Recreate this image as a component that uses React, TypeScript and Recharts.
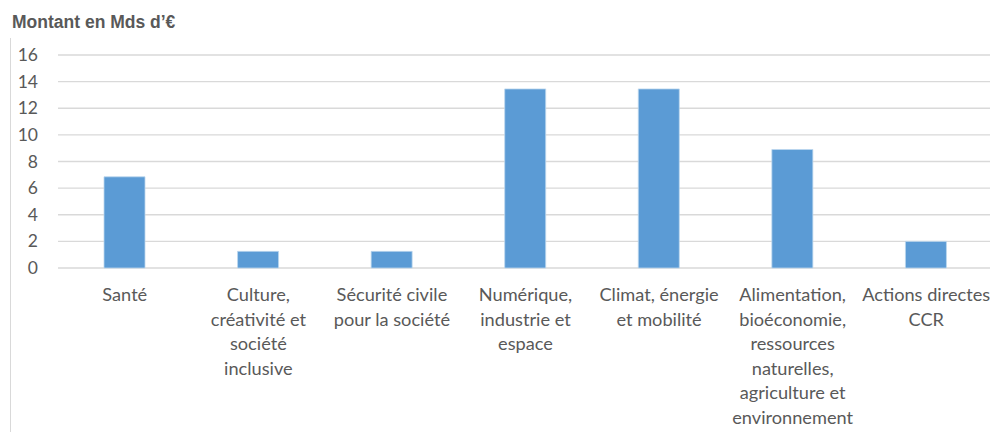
import React from "react";
import { BarChart, Bar, XAxis, YAxis, CartesianGrid } from "recharts";

const categories = [
  "Santé",
  "Culture, créativité et société inclusive",
  "Sécurité civile pour la société",
  "Numérique, industrie et espace",
  "Climat, énergie et mobilité",
  "Alimentation, bioéconomie, ressources naturelles, agriculture et environnement",
  "Actions directes CCR",
];

const tickLines: string[][] = [
  ["Santé"],
  ["Culture,", "créativité et", "société", "inclusive"],
  ["Sécurité civile", "pour la société"],
  ["Numérique,", "industrie et", "espace"],
  ["Climat, énergie", "et mobilité"],
  ["Alimentation,", "bioéconomie,", "ressources", "naturelles,", "agriculture et", "environnement"],
  ["Actions directes", "CCR"],
];

const amounts = [6.85, 1.25, 1.25, 13.45, 13.45, 8.9, 2.0];

const yTicks = [0, 2, 4, 6, 8, 10, 12, 14, 16];

const title = "Montant en Mds d’€";

const data = categories.map((name, i) => ({ name, value: amounts[i], idx: i }));

const FONT = "Lato, 'Open Sans', sans-serif";
const GRAY = "#595959";

const XTick = (props: any) => {
  const { x, y, index } = props;
  const lines = tickLines[index] || [];
  return (
    <g>
      {lines.map((l, i) => (
        <text
          key={i}
          x={x}
          y={y + 33 + i * 24.6}
          textAnchor="middle"
          fill={GRAY}
          fontSize={18.2}
          fontFamily={FONT}
        >
          {l}
        </text>
      ))}
    </g>
  );
};

const YTick = (props: any) => {
  const { y, payload } = props;
  return (
    <text x={38} y={y + 6} textAnchor="end" fill={GRAY} fontSize={17.5} fontFamily={FONT}>
      {payload.value}
    </text>
  );
};

export default function App() {
  return (
    <div
      style={{
        position: "absolute",
        left: 0,
        top: 0,
        width: 990,
        height: 432,
        overflow: "hidden",
        background: "#fff",
      }}
    >
      <div
        style={{
          position: "absolute",
          left: 12,
          top: 12,
          fontFamily: "'Liberation Sans', Arial, sans-serif",
          fontWeight: "bold",
          fontSize: 17.5,
          letterSpacing: 0,
          color: GRAY,
          whiteSpace: "nowrap",
        }}
      >
        {title}
      </div>
      <div
        style={{
          position: "absolute",
          left: 10,
          top: 38,
          width: 1,
          height: 394,
          background: "#D9D9D9",
        }}
      />
      <div style={{ position: "absolute", left: 0, top: 0 }}>
        <BarChart
          width={1000}
          height={432}
          data={data}
          margin={{ top: 55, right: 7, bottom: 0, left: 0 }}
          barSize={41}
        >
          <CartesianGrid vertical={false} stroke="#D9D9D9" strokeWidth={1.3} />
          <XAxis
            dataKey="name"
            axisLine={false}
            tickLine={false}
            tickSize={0}
            tickMargin={0}
            height={164}
            interval={0}
            tick={<XTick />}
          />
          <YAxis
            width={58}
            domain={[0, 16]}
            ticks={yTicks}
            axisLine={false}
            tickLine={false}
            tick={<YTick />}
          />
          <Bar
            dataKey="value"
            fill="#5B9BD5"
            stroke="#BDD7EE"
            strokeWidth={0.8}
            isAnimationActive={false}
          />
        </BarChart>
      </div>
    </div>
  );
}
